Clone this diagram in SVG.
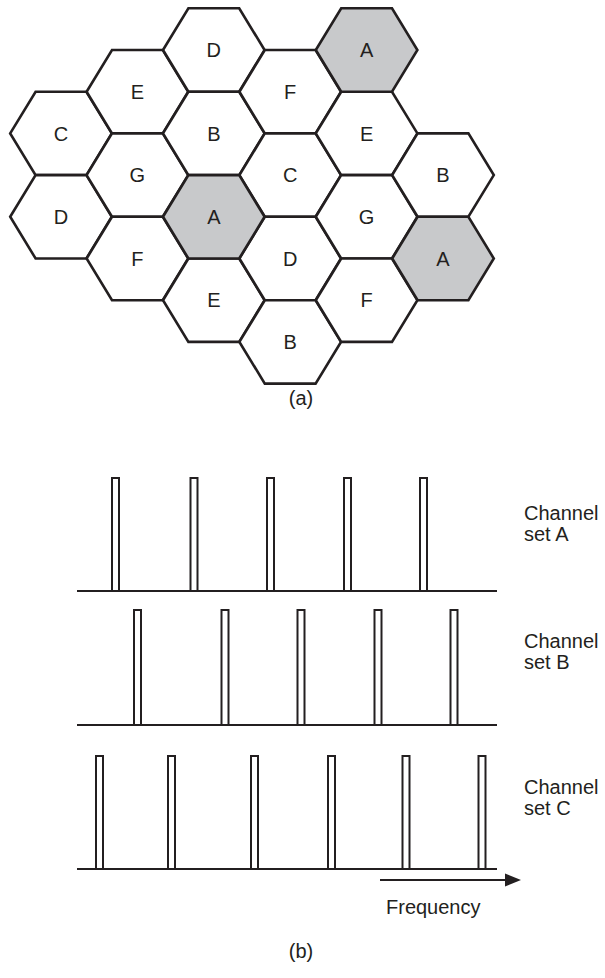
<svg xmlns="http://www.w3.org/2000/svg" xmlns:xlink="http://www.w3.org/1999/xlink" width="605" height="978" viewBox="0 0 605 978">
<style>
.hex{fill:#ffffff;stroke:#231f20;stroke-width:2.6;stroke-linejoin:miter}
.hex.g{fill:#c8c9cb}
.lbl{font-family:"Liberation Sans",Arial,sans-serif;font-size:20px;fill:#231f20;text-anchor:middle}
.txt{font-family:"Liberation Sans",Arial,sans-serif;font-size:20px;fill:#231f20}
.bar{fill:#ffffff;stroke:#231f20;stroke-width:2}
.axis{stroke:#231f20;stroke-width:2.2;fill:none}
</style>
<defs>
<polygon id="hx" points="-50.8,0 -25.4,-41.7 25.4,-41.7 50.8,0 25.4,41.7 -25.4,41.7"/>
</defs>
<rect width="605" height="978" fill="#ffffff"/>
<g id="cells">
<g id="c0r2"><use xlink:href="#hx" href="#hx" class="hex" x="61" y="133.4"/><text class="lbl" x="61" y="140.6">C</text></g>
<g id="c0r4"><use xlink:href="#hx" href="#hx" class="hex" x="61" y="216.8"/><text class="lbl" x="61" y="224">D</text></g>
<g id="c1r1"><use xlink:href="#hx" href="#hx" class="hex" x="137.4" y="91.7"/><text class="lbl" x="137.4" y="98.9">E</text></g>
<g id="c1r3"><use xlink:href="#hx" href="#hx" class="hex" x="137.4" y="175.1"/><text class="lbl" x="137.4" y="182.3">G</text></g>
<g id="c1r5"><use xlink:href="#hx" href="#hx" class="hex" x="137.4" y="258.5"/><text class="lbl" x="137.4" y="265.7">F</text></g>
<g id="c2r0"><use xlink:href="#hx" href="#hx" class="hex" x="213.8" y="50"/><text class="lbl" x="213.8" y="57.2">D</text></g>
<g id="c2r2"><use xlink:href="#hx" href="#hx" class="hex" x="213.8" y="133.4"/><text class="lbl" x="213.8" y="140.6">B</text></g>
<g id="c2r6"><use xlink:href="#hx" href="#hx" class="hex" x="213.8" y="300.2"/><text class="lbl" x="213.8" y="307.4">E</text></g>
<g id="c3r1"><use xlink:href="#hx" href="#hx" class="hex" x="290.2" y="91.7"/><text class="lbl" x="290.2" y="98.9">F</text></g>
<g id="c3r3"><use xlink:href="#hx" href="#hx" class="hex" x="290.2" y="175.1"/><text class="lbl" x="290.2" y="182.3">C</text></g>
<g id="c3r5"><use xlink:href="#hx" href="#hx" class="hex" x="290.2" y="258.5"/><text class="lbl" x="290.2" y="265.7">D</text></g>
<g id="c3r7"><use xlink:href="#hx" href="#hx" class="hex" x="290.2" y="341.9"/><text class="lbl" x="290.2" y="349.1">B</text></g>
<g id="c4r2"><use xlink:href="#hx" href="#hx" class="hex" x="366.6" y="133.4"/><text class="lbl" x="366.6" y="140.6">E</text></g>
<g id="c4r4"><use xlink:href="#hx" href="#hx" class="hex" x="366.6" y="216.8"/><text class="lbl" x="366.6" y="224">G</text></g>
<g id="c4r6"><use xlink:href="#hx" href="#hx" class="hex" x="366.6" y="300.2"/><text class="lbl" x="366.6" y="307.4">F</text></g>
<g id="c5r3"><use xlink:href="#hx" href="#hx" class="hex" x="443" y="175.1"/><text class="lbl" x="443" y="182.3">B</text></g>
<g id="c2r4"><use xlink:href="#hx" href="#hx" class="hex g" x="213.8" y="216.8"/><text class="lbl" x="213.8" y="224">A</text></g>
<g id="c4r0"><use xlink:href="#hx" href="#hx" class="hex g" x="366.6" y="50"/><text class="lbl" x="366.6" y="57.2">A</text></g>
<g id="c5r5"><use xlink:href="#hx" href="#hx" class="hex g" x="443" y="258.5"/><text class="lbl" x="443" y="265.7">A</text></g>
</g>
<text class="lbl" x="301" y="405">(a)</text>
<g id="setA">
<rect class="bar" x="112" y="478" width="7" height="113"/>
<rect class="bar" x="190.5" y="478" width="7" height="113"/>
<rect class="bar" x="267" y="478" width="7" height="113"/>
<rect class="bar" x="344" y="478" width="7" height="113"/>
<rect class="bar" x="420" y="478" width="7" height="113"/>
<line class="axis" x1="77" y1="591" x2="497" y2="591"/>
<text class="txt" x="524" y="520">Channel</text>
<text class="txt" x="524" y="541">set A</text>
</g>
<g id="setB">
<rect class="bar" x="134" y="610" width="7" height="115"/>
<rect class="bar" x="221.5" y="610" width="7" height="115"/>
<rect class="bar" x="297.5" y="610" width="7" height="115"/>
<rect class="bar" x="374.5" y="610" width="7" height="115"/>
<rect class="bar" x="450.5" y="610" width="7" height="115"/>
<line class="axis" x1="77" y1="725" x2="497" y2="725"/>
<text class="txt" x="524" y="648">Channel</text>
<text class="txt" x="524" y="669">set B</text>
</g>
<g id="setC">
<rect class="bar" x="96" y="756" width="7" height="113"/>
<rect class="bar" x="168" y="756" width="7" height="113"/>
<rect class="bar" x="251" y="756" width="7" height="113"/>
<rect class="bar" x="328" y="756" width="7" height="113"/>
<rect class="bar" x="402.5" y="756" width="7" height="113"/>
<rect class="bar" x="478.5" y="756" width="7" height="113"/>
<line class="axis" x1="77" y1="869" x2="497" y2="869"/>
<text class="txt" x="524" y="794">Channel</text>
<text class="txt" x="524" y="815">set C</text>
</g>
<g id="connectors">
<line class="axis" x1="380" y1="880" x2="507" y2="880"/>
<polygon points="505,873.5 521,880 505,886.5" fill="#231f20"/>
</g>
<text class="txt" x="386" y="914">Frequency</text>
<text class="lbl" x="301" y="958">(b)</text>
</svg>
